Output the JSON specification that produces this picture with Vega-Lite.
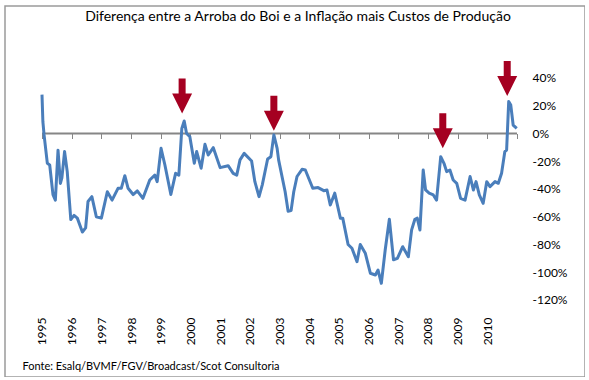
{
  "$schema": "https://vega.github.io/schema/vega-lite/v6.json",
  "width": 580,
  "height": 371,
  "autosize": {"type": "none"},
  "padding": {"left": 5, "top": 6, "right": 0, "bottom": 0},
  "background": "white",
  "config": {
    "view": {"stroke": "#9a9a9a", "strokeWidth": 1.5},
    "font": "Lato"
  },
  "title": {
    "text": "Diferença entre a Arroba do Boi e a Inflação mais Custos de Produção",
    "font": "Lato",
    "fontSize": 14,
    "fontWeight": "normal",
    "color": "#000000",
    "anchor": "middle",
    "frame": "group",
    "baseline": "middle",
    "offset": -25,
    "dx": 3
  },
  "datasets": {
    "serie": [
      {"t": 1995.0, "v": 28},
      {"t": 1995.03, "v": 8.5},
      {"t": 1995.07, "v": -1},
      {"t": 1995.18, "v": -21.5},
      {"t": 1995.26, "v": -22.7},
      {"t": 1995.37, "v": -44},
      {"t": 1995.45, "v": -48},
      {"t": 1995.54, "v": -12},
      {"t": 1995.62, "v": -36},
      {"t": 1995.67, "v": -32},
      {"t": 1995.76, "v": -13},
      {"t": 1995.85, "v": -27.5},
      {"t": 1995.97, "v": -62},
      {"t": 1996.08, "v": -59},
      {"t": 1996.19, "v": -61},
      {"t": 1996.36, "v": -71},
      {"t": 1996.47, "v": -68},
      {"t": 1996.55, "v": -49},
      {"t": 1996.68, "v": -45.5},
      {"t": 1996.83, "v": -60},
      {"t": 1997.0, "v": -61},
      {"t": 1997.2, "v": -42},
      {"t": 1997.36, "v": -48},
      {"t": 1997.56, "v": -39.5},
      {"t": 1997.67, "v": -39.5},
      {"t": 1997.79, "v": -30.4},
      {"t": 1997.9, "v": -39.5},
      {"t": 1998.07, "v": -44},
      {"t": 1998.21, "v": -41.4},
      {"t": 1998.4, "v": -46.7},
      {"t": 1998.63, "v": -33.5},
      {"t": 1998.8, "v": -30},
      {"t": 1998.88, "v": -34.7},
      {"t": 1999.01, "v": -10.7},
      {"t": 1999.14, "v": -22.7},
      {"t": 1999.34, "v": -44},
      {"t": 1999.5, "v": -28.7},
      {"t": 1999.61, "v": -30},
      {"t": 1999.71, "v": 3.7},
      {"t": 1999.79, "v": 9},
      {"t": 1999.87, "v": 0},
      {"t": 1999.98, "v": -2.3},
      {"t": 2000.13, "v": -21.5},
      {"t": 2000.21, "v": -13},
      {"t": 2000.36, "v": -25},
      {"t": 2000.49, "v": -7.8},
      {"t": 2000.6, "v": -15.5},
      {"t": 2000.77, "v": -10.2},
      {"t": 2001.0, "v": -24.6},
      {"t": 2001.27, "v": -23.2},
      {"t": 2001.44, "v": -28.7},
      {"t": 2001.56, "v": -30},
      {"t": 2001.67, "v": -19},
      {"t": 2001.81, "v": -14.3},
      {"t": 2002.06, "v": -19.8},
      {"t": 2002.17, "v": -34.7},
      {"t": 2002.31, "v": -45.5},
      {"t": 2002.42, "v": -37},
      {"t": 2002.6, "v": -18.4},
      {"t": 2002.71, "v": -16.7},
      {"t": 2002.81, "v": -1},
      {"t": 2002.92, "v": -10.7},
      {"t": 2002.97, "v": -19},
      {"t": 2003.19, "v": -42},
      {"t": 2003.29, "v": -56},
      {"t": 2003.39, "v": -55.6},
      {"t": 2003.48, "v": -42},
      {"t": 2003.59, "v": -31},
      {"t": 2003.76, "v": -25.8},
      {"t": 2003.87, "v": -26.3},
      {"t": 2004.12, "v": -39.5},
      {"t": 2004.3, "v": -39},
      {"t": 2004.49, "v": -41.2},
      {"t": 2004.6, "v": -40.7},
      {"t": 2004.71, "v": -51.5},
      {"t": 2004.86, "v": -43},
      {"t": 2005.05, "v": -61},
      {"t": 2005.13, "v": -61},
      {"t": 2005.31, "v": -80},
      {"t": 2005.44, "v": -82.7},
      {"t": 2005.61, "v": -92.4},
      {"t": 2005.72, "v": -80},
      {"t": 2005.89, "v": -86.3},
      {"t": 2006.06, "v": -100.7},
      {"t": 2006.23, "v": -102},
      {"t": 2006.32, "v": -98.4},
      {"t": 2006.43, "v": -108},
      {"t": 2006.56, "v": -84},
      {"t": 2006.7, "v": -61.8},
      {"t": 2006.84, "v": -91},
      {"t": 2006.97, "v": -90},
      {"t": 2007.15, "v": -81.6},
      {"t": 2007.34, "v": -88.8},
      {"t": 2007.45, "v": -69.5},
      {"t": 2007.56, "v": -61.8},
      {"t": 2007.64, "v": -61},
      {"t": 2007.73, "v": -69.5},
      {"t": 2007.84, "v": -26.3},
      {"t": 2007.92, "v": -40.7},
      {"t": 2008.04, "v": -43},
      {"t": 2008.18, "v": -44.3},
      {"t": 2008.29, "v": -48},
      {"t": 2008.43, "v": -16.7},
      {"t": 2008.54, "v": -21.5},
      {"t": 2008.63, "v": -27.5},
      {"t": 2008.74, "v": -26.3},
      {"t": 2008.85, "v": -33.5},
      {"t": 2008.97, "v": -35.9},
      {"t": 2009.1, "v": -46.7},
      {"t": 2009.25, "v": -48},
      {"t": 2009.42, "v": -31},
      {"t": 2009.53, "v": -40.7},
      {"t": 2009.62, "v": -34.7},
      {"t": 2009.73, "v": -44.3},
      {"t": 2009.86, "v": -50.3},
      {"t": 2009.98, "v": -34.7},
      {"t": 2010.09, "v": -38.3},
      {"t": 2010.26, "v": -34.7},
      {"t": 2010.37, "v": -35.9},
      {"t": 2010.48, "v": -28.7},
      {"t": 2010.59, "v": -13},
      {"t": 2010.65, "v": -11.9},
      {"t": 2010.72, "v": 23},
      {"t": 2010.79, "v": 20.5},
      {"t": 2010.87, "v": 6.1},
      {"t": 2010.99, "v": 3.7}
    ],
    "setas": [
      {"t": 1999.72, "v": 27.0},
      {"t": 2002.81, "v": 14.6},
      {"t": 2008.5, "v": 2.0},
      {"t": 2010.67, "v": 39.6}
    ],
    "eixo": [
      {"t": 1995, "t2": 2011, "v": 0}
    ]
  },
  "encoding": {
    "x": {
      "field": "t",
      "type": "quantitative",
      "scale": {"domain": [1993.754, 2013.29], "nice": false, "zero": false},
      "axis": {
        "orient": "bottom",
        "offset": -243.5,
        "values": [1995, 1996, 1997, 1998, 1999, 2000, 2001, 2002, 2003, 2004, 2005, 2006, 2007, 2008, 2009, 2010, 2011],
        "labelExpr": "datum.value <= 2010 ? '' + datum.value : ''",
        "domain": false,
        "grid": false,
        "ticks": true,
        "tickSize": 5,
        "tickColor": "#868686",
        "tickWidth": 1,
        "labelAngle": -90,
        "labelAlign": "right",
        "labelBaseline": "middle",
        "labelPadding": 178.5,
        "labelFont": "Lato",
        "labelFontSize": 12,
        "labelColor": "#000000",
        "labelFlush": false,
        "labelOverlap": false,
        "labelSeparation": 0,
        "labelBound": false,
        "title": "Fonte: Esalq/BVMF/FGV/Broadcast/Scot Consultoria",
        "titleFont": "Lato",
        "titleFontSize": 11,
        "titleFontWeight": "normal",
        "titleColor": "#000000",
        "titleAlign": "left",
        "titleAnchor": "start",
        "titleBaseline": "middle",
        "titleX": 17,
        "titleY": 232.5
      }
    },
    "y": {
      "field": "v",
      "type": "quantitative",
      "scale": {"domain": [-175.5, 91.89], "nice": false, "zero": false},
      "axis": {
        "orient": "right",
        "offset": -53,
        "values": [40, 20, 0, -20, -40, -60, -80, -100, -120],
        "labelExpr": "datum.value + '%'",
        "domain": false,
        "grid": false,
        "ticks": false,
        "tickSize": 0,
        "labelPadding": 0,
        "labelAlign": "left",
        "labelFont": "Lato",
        "labelFontSize": 12,
        "labelColor": "#000000",
        "title": null
      }
    }
  },
  "layer": [
    {
      "data": {"name": "eixo"},
      "mark": {"type": "rule", "color": "#868686", "strokeWidth": 2},
      "encoding": {
        "x2": {"field": "t2"}
      }
    },
    {
      "data": {"name": "serie"},
      "mark": {"type": "line", "color": "#4A7EBB", "strokeWidth": 3, "strokeJoin": "round"}
    },
    {
      "data": {"name": "setas"},
      "mark": {
        "type": "point",
        "shape": "M-0.2,-1L0.2,-1L0.2,-0.14L0.57,-0.14L0,1L-0.57,-0.14L-0.2,-0.14Z",
        "size": 1225,
        "filled": true,
        "color": "#A50021",
        "opacity": 1,
        "strokeWidth": 0
      }
    }
  ]
}
